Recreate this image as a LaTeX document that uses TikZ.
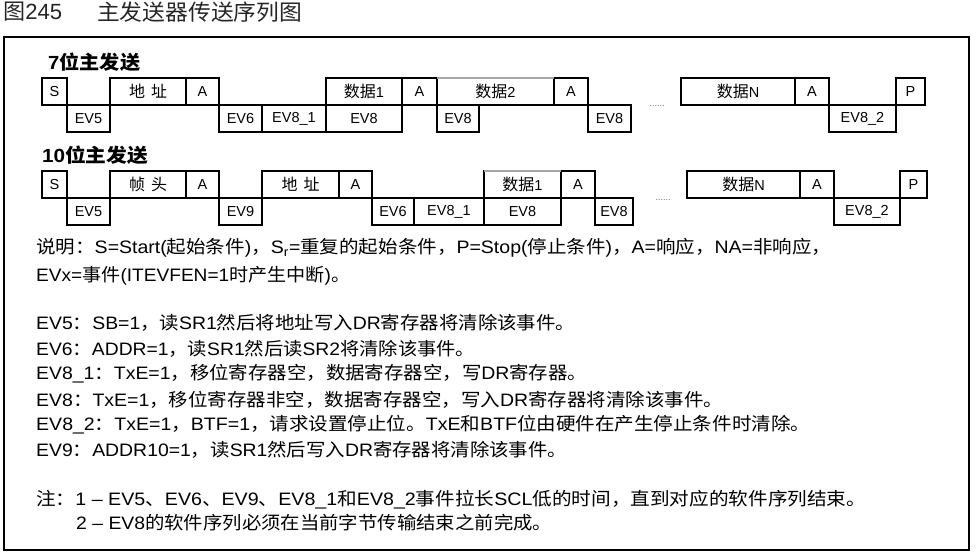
\documentclass[tikz,border=0pt]{standalone}
\usepackage{fontspec}
\setmainfont{Liberation Sans}
\newfontfamily\zhfont{Noto Sans CJK SC}
\newcommand\zh[1]{{\zhfont #1}}
\newcommand\zhc[1]{{\fontsize{16}{18}\zhfont #1}}
\usepackage{graphicx}
\newsavebox\fitbox
\newcommand\fitw[2]{\sbox\fitbox{#2}\pgfmathsetmacro\fitfac{#1/\the\wd\fitbox}\scalebox{\fitfac}[1]{\usebox\fitbox}}
\newcommand\cell[6]{\node[cellst, minimum width={(#3-#2)*1pt}, minimum height={(#5-#4)*1pt}] (#1) at ({(#2+#3)/2},{(#4+#5)/2}) {#6};}
\tikzset{
  cellst/.style={draw, line width=1.2pt, inner sep=0pt, outer sep=0pt, font=\fontsize{14.5}{16}\selectfont},
  txt/.style={anchor=west, inner sep=0pt, font=\fontsize{18}{20}\selectfont},
  head/.style={anchor=west, inner sep=0pt, font=\fontsize{19}{21}\selectfont\bfseries},
  ttl/.style={anchor=west, inner sep=0pt, font=\fontsize{22}{24}\selectfont, text=black!85},
  dotsst/.style={inner sep=0pt, font=\fontsize{9}{10}\selectfont, text=black!60},
  frame/.style={draw, line width=1.8pt},
  faint/.style={draw=black!35, line width=1.2pt}
}
\begin{document}
\begin{tikzpicture}[x=1pt,y=-1pt]
\useasboundingbox (0,0) rectangle (977,556);
% title
\node[ttl] (fig) at (3,12) {\fitw{59}{\zh{图}245}};
\node[ttl] (title) at (97,12) {\fitw{205}{\zh{主发送器传送序列图}}};
% frame
\draw[frame] (4,37) rectangle (969,550);
% 7-bit
\node[head] (h7) at (48,62) {\fitw{92}{7\zh{位主发送}}};
\cell{a-S}{42}{67}{78}{105}{S}
\cell{a-ev5}{67}{110}{105}{132}{EV5}
\cell{a-addr}{110}{186}{78}{105}{\zhc{地}\hspace{6pt}\zhc{址}}
\cell{a-A1}{186}{219}{78}{105}{A}
\cell{a-ev6}{219}{262}{105}{132}{EV6}
\cell{a-ev81}{262}{326}{105}{132}{EV8\_1}
\cell{a-d1}{326}{402}{78}{105}{\zhc{数据}1}
\cell{a-e1}{326}{402}{105}{132}{EV8}
\cell{a-A2}{402}{437}{78}{105}{A}
\cell{a-d2}{437}{554}{78}{105}{\zhc{数据}2}
\cell{a-e2}{437}{479}{105}{132}{EV8}
\cell{a-A3}{554}{588}{78}{105}{A}
\cell{a-e3}{588}{631}{105}{132}{EV8}
\cell{a-dN}{681}{795}{78}{105}{\zhc{数据}N}
\cell{a-A4}{795}{829}{78}{105}{A}
\cell{a-ev82}{829}{896}{105}{132}{EV8\_2}
\cell{a-P}{896}{925}{78}{105}{P}
\draw[faint] (a-d2.north west) -- (a-d2.north east);
\node[dotsst] (a-dots) at (657,106) {......};
% 10-bit
\node[head] (h10) at (42,155) {\fitw{106}{10\zh{位主发送}}};
\cell{b-S}{42}{67}{171}{198}{S}
\cell{b-ev5}{67}{110}{198}{225}{EV5}
\cell{b-hdr}{110}{186}{171}{198}{\zhc{帧}\hspace{6pt}\zhc{头}}
\cell{b-A1}{186}{219}{171}{198}{A}
\cell{b-ev9}{219}{262}{198}{225}{EV9}
\cell{b-addr}{262}{339}{171}{198}{\zhc{地}\hspace{6pt}\zhc{址}}
\cell{b-A2}{339}{372}{171}{198}{A}
\cell{b-ev6}{372}{414}{198}{225}{EV6}
\cell{b-ev81}{414}{484}{198}{225}{EV8\_1}
\cell{b-d1}{484}{561}{171}{198}{\zhc{数据}1}
\cell{b-e1}{484}{561}{198}{225}{EV8}
\cell{b-A3}{561}{595}{171}{198}{A}
\cell{b-e2}{595}{633}{198}{225}{EV8}
\cell{b-dN}{687}{800}{171}{198}{\zhc{数据}N}
\cell{b-A4}{800}{834}{171}{198}{A}
\cell{b-ev82}{834}{900}{198}{225}{EV8\_2}
\cell{b-P}{900}{927}{171}{198}{P}
\draw[faint] (b-d1.north west) -- (b-d1.north east);
\node[dotsst] (b-dots) at (663,200) {......};
% legend
\node[txt] (l1) at (36,248) {\fitw{795}{\zh{说明：}S=Start(\zh{起始条件})\zh{，}S\textsubscript{r}=\zh{重复的起始条件，}P=Stop(\zh{停止条件})\zh{，}A=\zh{响应，}NA=\zh{非响应，}}};
\node[txt] (l2) at (36,276) {\fitw{314}{EVx=\zh{事件}(ITEVFEN=1\zh{时产生中断})\zh{。}}};
\node[txt] (e5) at (36,323) {\fitw{539}{EV5\zh{：}SB=1\zh{，读}SR1\zh{然后将地址写入}DR\zh{寄存器将清除该事件。}}};
\node[txt] (e6) at (36,349) {\fitw{439}{EV6\zh{：}ADDR=1\zh{，读}SR1\zh{然后读}SR2\zh{将清除该事件。}}};
\node[txt] (e81) at (36,374) {\fitw{551}{EV8\_1\zh{：}TxE=1\zh{，移位寄存器空，数据寄存器空，写}DR\zh{寄存器。}}};
\node[txt] (e8) at (36,400) {\fitw{687}{EV8\zh{：}TxE=1\zh{，移位寄存器非空，数据寄存器空，写入}DR\zh{寄存器将清除该事件。}}};
\node[txt] (e82) at (36,425) {\fitw{774}{EV8\_2\zh{：}TxE=1\zh{，}BTF=1\zh{，请求设置停止位。}TxE\zh{和}BTF\zh{位由硬件在产生停止条件时清除。}}};
\node[txt] (e9) at (36,450) {\fitw{531}{EV9\zh{：}ADDR10=1\zh{，读}SR1\zh{然后写入}DR\zh{寄存器将清除该事件。}}};
\node[txt] (n1) at (36,500) {\fitw{830}{\zh{注：}1 – EV5\zh{、}EV6\zh{、}EV9\zh{、}EV8\_1\zh{和}EV8\_2\zh{事件拉长}SCL\zh{低的时间，直到对应的软件序列结束。}}};
\node[txt] (n2) at (76,523) {\fitw{476}{2 – EV8\zh{的软件序列必须在当前字节传输结束之前完成。}}};
\end{tikzpicture}
\end{document}
